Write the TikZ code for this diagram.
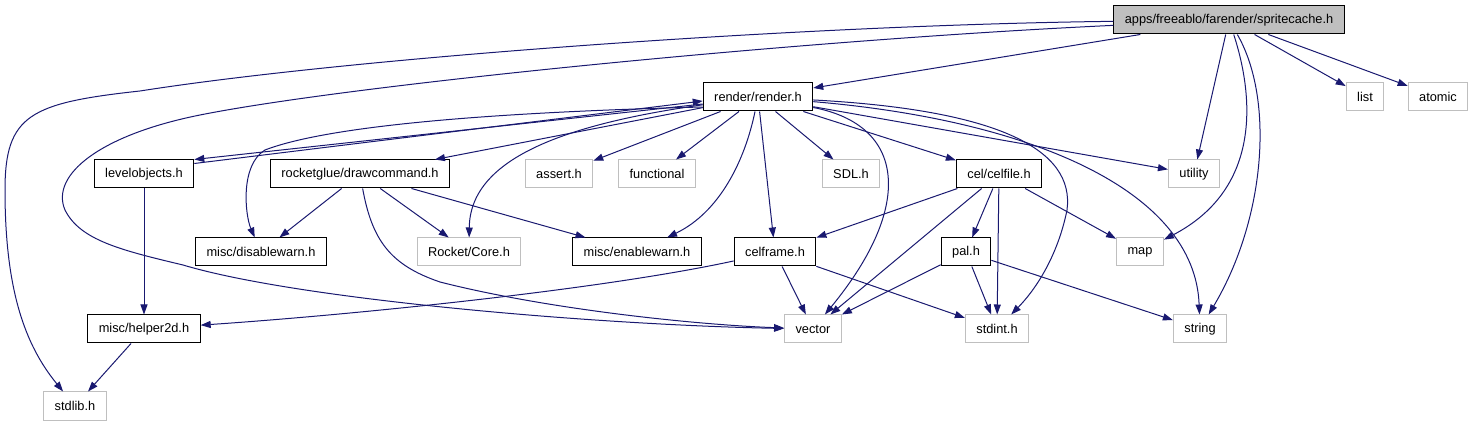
\documentclass[tikz,border=0pt]{standalone}
\usepackage{fontspec}
\setmainfont{Liberation Sans}
\usetikzlibrary{arrows.meta, positioning}
\definecolor{edgeblue}{HTML}{191970}
\definecolor{extgray}{HTML}{BFBFBF}

\begin{document}
\begin{tikzpicture}[
    x=1pt, y=-1pt,
    file/.style={rectangle, draw=black, fill=white, line width=1pt, minimum height=28pt, inner xsep=11pt, font=\fontsize{12.8}{15}\selectfont},
    extfile/.style={file, draw=extgray},
    rootfile/.style={file, fill=extgray},
    dep/.style={->, >={Triangle[length=10pt,width=7pt]}, draw=edgeblue, line width=1pt}
]
    \useasboundingbox (0,0) rectangle (1475,427);

    \node (sc) [rootfile] at (1229,20) {apps/freeablo/farender/spritecache.h};
    \node (render) [file] at (758,97) {render/render.h};
    \node (list) [extfile] at (1365,97) {list};
    \node (atomic) [extfile] at (1438,97) {atomic};

    \node (levelobj) [file] at (144,174) {levelobjects.h};
    \node (drawcmd) [file] at (360,174) {rocketglue/drawcommand.h};
    \node (assert) [extfile] at (559,174) {assert.h};
    \node (functional) [extfile] at (657,174) {functional};
    \node (sdl) [extfile] at (851,174) {SDL.h};
    \node (celfile) [file] at (999,174) {cel/celfile.h};
    \node (utility) [extfile] at (1194,174) {utility};

    \node (disablewarn) [file] at (261,252) {misc/disablewarn.h};
    \node (rocketcore) [extfile] at (469,252) {Rocket/Core.h};
    \node (enablewarn) [file] at (637,252) {misc/enablewarn.h};
    \node (celframe) [file] at (775,252) {celframe.h};
    \node (pal) [file] at (966,252) {pal.h};
    \node (map) [extfile] at (1140,252) {map};

    \node (helper2d) [file] at (144,329) {misc/helper2d.h};
    \node (vector) [extfile] at (813,329) {vector};
    \node (stdint) [extfile] at (997,329) {stdint.h};
    \node (string) [extfile] at (1200,329) {string};

    \node (stdlib) [extfile] at (75,406) {stdlib.h};

    % spritecache.h
    \draw[dep] (sc) -- (render);
    \draw[dep] (sc) -- (utility);
    \draw[dep] (sc) -- (list);
    \draw[dep] (sc) -- (atomic);
    \draw[dep] (sc) .. controls (1255,100) and (1260,190) .. (map);
    \draw[dep] (sc) .. controls (1275,100) and (1265,220) .. (string);
    \draw[dep] (sc) .. controls (800,25) and (350,58) .. (140,91) .. controls (30,103) and (5,115) .. (5,190) .. controls (5,290) and (25,345) .. (stdlib);
    \draw[dep] (sc) .. controls (800,40) and (350,85) .. (200,115) .. controls (100,135) and (50,175) .. (65,210) .. controls (80,240) and (120,250) .. (183,265) .. controls (300,300) and (600,325) .. (vector);

    % render/render.h
    \draw[dep] ([yshift=-7pt]render.west) -- (levelobj.north east);
    \draw[dep] ([yshift=-4pt]levelobj.north east) -- ([yshift=-4pt]render.west);
    \draw[dep] ([yshift=-10pt]render.west) .. controls (500,112) and (330,125) .. (265,150) .. controls (240,165) and (245,215) .. (disablewarn);
    \draw[dep] (render) -- (drawcmd);
    \draw[dep] (render) -- (assert);
    \draw[dep] (render) -- (functional);
    \draw[dep] (render) -- (sdl);
    \draw[dep] (render) -- (celfile);
    \draw[dep] (render) -- (utility);
    \draw[dep] (render) .. controls (560,125) and (470,160) .. (rocketcore);
    \draw[dep] (render) .. controls (745,160) and (720,212) .. (enablewarn);
    \draw[dep] (render) -- (celframe);
    \draw[dep] (render) .. controls (905,125) and (915,205) .. (vector);
    \draw[dep] (render) .. controls (1000,110) and (1075,150) .. (1067,210) .. controls (1059,250) and (1040,285) .. (stdint);
    \draw[dep] (render) .. controls (1030,120) and (1195,190) .. (string);

    % rocketglue/drawcommand.h
    \draw[dep] (drawcmd) -- (disablewarn);
    \draw[dep] (drawcmd) -- (rocketcore);
    \draw[dep] (drawcmd) -- (enablewarn);
    \draw[dep] (drawcmd) .. controls (372,240) and (390,265) .. (440,282) .. controls (550,310) and (700,325) .. (vector);

    \draw[dep] (levelobj) -- (helper2d);
    \draw[dep] (helper2d) -- (stdlib);

    % cel/celfile.h
    \draw[dep] (celfile) -- (celframe);
    \draw[dep] (celfile) -- (vector);
    \draw[dep] (celfile) -- (pal);
    \draw[dep] (celfile) -- (stdint);
    \draw[dep] (celfile) -- (map);

    \draw[dep] (celframe) .. controls (600,290) and (350,315) .. (helper2d);
    \draw[dep] (celframe) -- (vector);
    \draw[dep] (celframe) -- (stdint);

    \draw[dep] (pal) -- (vector);
    \draw[dep] (pal) -- (stdint);
    \draw[dep] (pal) -- (string);
\end{tikzpicture}
\end{document}
